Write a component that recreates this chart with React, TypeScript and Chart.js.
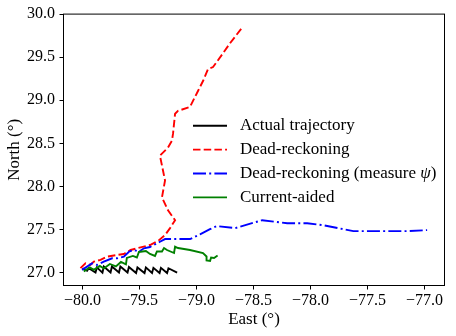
import React, { useEffect, useRef } from "react";
import { Chart, registerables } from "chart.js";

Chart.register(...registerables);

// ---------- data ----------
const actualLon = [-80.0, -79.96, -79.945, -79.886, -79.874, -79.825, -79.813, -79.754, -79.742, -79.68, -79.668, -79.605, -79.593, -79.53, -79.518, -79.456, -79.444, -79.39, -79.378, -79.324, -79.312, -79.258, -79.246, -79.17];
const actualLat = [27.05, 27.02, 27.05, 27.0, 27.06, 27.0, 27.07, 27.0, 27.07, 27.0, 27.07, 27.0, 27.065, 26.995, 27.06, 26.995, 27.06, 26.995, 27.055, 26.995, 27.055, 26.995, 27.05, 27.0];

const deadLon = [-80.018, -79.974, -79.93, -79.901, -79.842, -79.784, -79.696, -79.637, -79.578, -79.49, -79.408, -79.338, -79.276, -79.232, -79.188, -79.25, -79.303, -79.276, -79.294, -79.321, -79.25, -79.215, -79.206, -79.188, -79.162, -79.057, -78.987, -78.943, -78.899, -78.855, -78.767, -78.706, -78.591];
const deadLat = [27.051, 27.108, 27.089, 27.127, 27.147, 27.185, 27.204, 27.216, 27.262, 27.293, 27.32, 27.366, 27.435, 27.516, 27.608, 27.723, 27.873, 28.069, 28.185, 28.358, 28.45, 28.531, 28.612, 28.843, 28.877, 28.923, 29.108, 29.223, 29.362, 29.385, 29.547, 29.662, 29.858];

const psiLon = [-80.004, -79.96, -79.916, -79.872, -79.813, -79.74, -79.696, -79.637, -79.593, -79.549, -79.505, -79.461, -79.408, -79.321, -79.276, -79.204, -79.057, -78.969, -78.882, -78.822, -78.661, -78.424, -78.204, -78.029, -77.888, -77.624, -77.387, -77.149, -76.977];
const psiLat = [27.031, 27.069, 27.108, 27.089, 27.127, 27.166, 27.166, 27.185, 27.242, 27.262, 27.242, 27.282, 27.297, 27.358, 27.389, 27.389, 27.389, 27.443, 27.504, 27.539, 27.516, 27.608, 27.573, 27.573, 27.55, 27.481, 27.481, 27.481, 27.493];

const curLon = [-79.989, -79.936, -79.901, -79.848, -79.813, -79.76, -79.707, -79.663, -79.619, -79.611, -79.558, -79.523, -79.505, -79.444, -79.408, -79.364, -79.347, -79.303, -79.285, -79.259, -79.197, -79.188, -79.162, -79.057, -78.943, -78.912, -78.912, -78.881, -78.872, -78.846, -78.815];
const curLat = [27.014, 27.06, 27.031, 27.077, 27.048, 27.1, 27.072, 27.123, 27.095, 27.17, 27.193, 27.175, 27.239, 27.25, 27.216, 27.193, 27.245, 27.245, 27.285, 27.262, 27.227, 27.302, 27.285, 27.262, 27.227, 27.187, 27.141, 27.135, 27.175, 27.17, 27.198];

const seriesLabels = ["Actual trajectory", "Dead-reckoning", "Dead-reckoning (measure \u03c8)", "Current-aided"];
const seriesColors = ["#000000", "#ff0000", "#0000ff", "#008000"];
const seriesDashes: number[][] = [[], [7.5, 3.2], [13, 3.2, 2, 3.2], []];

const xTicks = [-80.0, -79.5, -79.0, -78.5, -78.0, -77.5, -77.0];
const yTicks = [27.0, 27.5, 28.0, 28.5, 29.0, 29.5, 30.0];
const xLabel = "East (\u00b0)";
const yLabel = "North (\u00b0)";

const X_MIN = -80.1667;
const X_MAX = -76.8246;
const Y_MIN = 26.85;
const Y_MAX = 30.0;

const FONT = "'Liberation Serif', 'Times New Roman', serif";

const zip = (xs: number[], ys: number[]) => xs.map((x, i) => ({ x, y: ys[i] }));
const fmt = (v: number) => (v < 0 ? "\u2212" + Math.abs(v).toFixed(1) : v.toFixed(1));

const framePlugin = {
  id: "frame",
  afterDatasetsDraw(chart: any) {
    const { ctx, chartArea } = chart;
    ctx.save();
    ctx.strokeStyle = "#000";
    ctx.lineWidth = 1;
    ctx.strokeRect(chartArea.left, chartArea.top, chartArea.right - chartArea.left, chartArea.bottom - chartArea.top);
    ctx.restore();
  },
};

const legendPlugin = {
  id: "innerLegend",
  afterDraw(chart: any) {
    const { ctx, chartArea } = chart;
    const x0 = chartArea.left + 129.5;
    const x1 = x0 + 34;
    const tx = x0 + 47;
    const y0 = 125.7;
    const dy = 23.9;
    ctx.save();
    chart.data.datasets.forEach((ds: any, i: number) => {
      const y = y0 + i * dy;
      ctx.beginPath();
      ctx.strokeStyle = ds.borderColor;
      ctx.lineWidth = ds.borderWidth;
      ctx.setLineDash(ds.borderDash || []);
      ctx.moveTo(x0, y);
      ctx.lineTo(x1, y);
      ctx.stroke();
      ctx.setLineDash([]);
      ctx.fillStyle = "#000";
      ctx.textBaseline = "middle";
      ctx.textAlign = "left";
      let x = tx;
      const parts = String(ds.label).split(/(\u03c8)/);
      parts.forEach((p: string) => {
        if (!p) return;
        ctx.font = (p === "\u03c8" ? "italic " : "") + "17px " + FONT;
        ctx.fillText(p, x, y);
        x += ctx.measureText(p).width;
      });
    });
    ctx.restore();
  },
};

export default function App() {
  const ref = useRef<HTMLCanvasElement | null>(null);
  useEffect(() => {
    if (!ref.current) return;
    const series = [zip(actualLon, actualLat), zip(deadLon, deadLat), zip(psiLon, psiLat), zip(curLon, curLat)];
    const chart = new Chart(ref.current, {
      type: "scatter",
      data: {
        datasets: series.map((d, i) => ({
          label: seriesLabels[i],
          data: d,
          showLine: true,
          borderColor: seriesColors[i],
          backgroundColor: seriesColors[i],
          borderWidth: 1.9,
          borderDash: seriesDashes[i],
          pointRadius: 0,
          pointHoverRadius: 0,
          tension: 0,
          fill: false,
          order: 3 - i,
        })),
      },
      options: {
        responsive: false,
        animation: false,
        devicePixelRatio: 1,
        layout: { padding: { left: 0, top: 12.5, right: 11.5, bottom: 0 } },
        plugins: { legend: { display: false }, tooltip: { enabled: false } },
        scales: {
          x: {
            type: "linear",
            min: X_MIN,
            max: X_MAX,
            afterBuildTicks: (s: any) => {
              s.ticks = xTicks.map((v) => ({ value: v }));
            },
            afterFit: (s: any) => {
              s.height = 50.5;
            },
            ticks: {
              callback: (v: any) => fmt(Number(v)),
              color: "#000",
              font: { family: FONT, size: 16 },
              padding: 2,
              maxRotation: 0,
              autoSkip: false,
            },
            grid: { display: true, drawOnChartArea: false, drawTicks: true, tickLength: 4, color: "#000", lineWidth: 1 },
            border: { display: false },
            title: { display: true, text: xLabel, color: "#000", font: { family: FONT, size: 17 }, padding: { top: 0, bottom: 5.8 } },
          },
          y: {
            type: "linear",
            min: Y_MIN,
            max: Y_MAX,
            afterBuildTicks: (s: any) => {
              s.ticks = yTicks.map((v) => ({ value: v }));
            },
            afterFit: (s: any) => {
              s.width = 63.5;
            },
            ticks: {
              callback: (v: any) => fmt(Number(v)),
              color: "#000",
              font: { family: FONT, size: 16 },
              padding: 4.5,
              autoSkip: false,
            },
            grid: { display: true, drawOnChartArea: false, drawTicks: true, tickLength: 4, color: "#000", lineWidth: 1 },
            border: { display: false },
            title: { display: true, text: yLabel, color: "#000", font: { family: FONT, size: 17 }, padding: { top: 4.8, bottom: 0 } },
          },
        },
      } as any,
      plugins: [framePlugin, legendPlugin],
    });
    return () => chart.destroy();
  }, []);
  return (
    <div style={{ position: "absolute", left: 0, top: 0, width: 456, height: 336, background: "#fff" }}>
      <canvas ref={ref} width={456} height={336} style={{ display: "block" }} />
    </div>
  );
}
